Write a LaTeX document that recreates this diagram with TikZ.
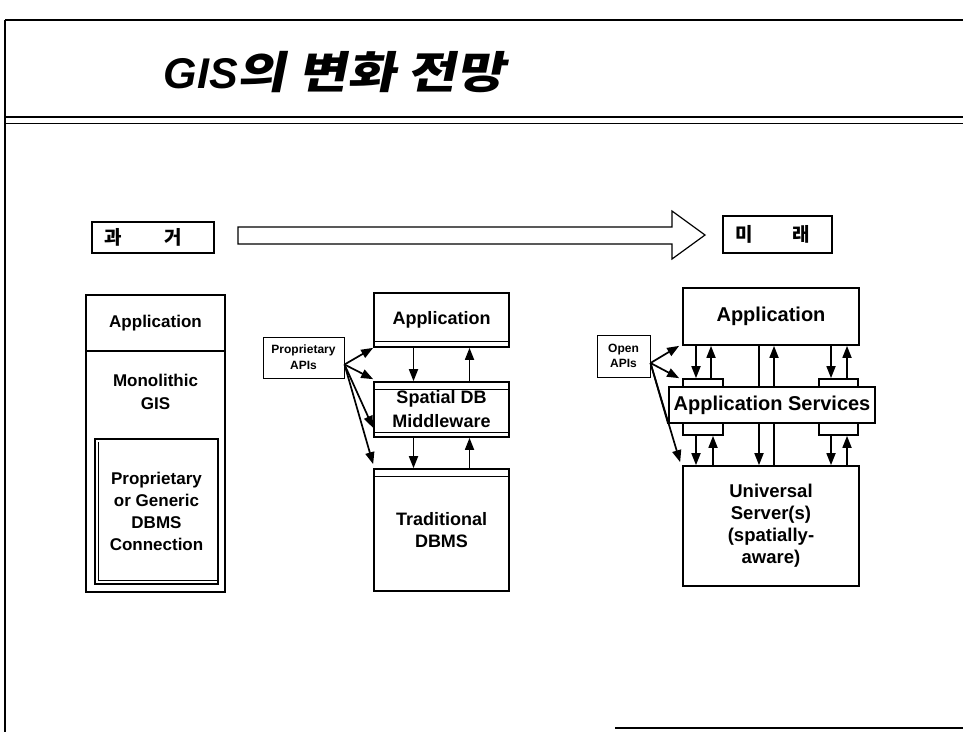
\documentclass[tikz,border=0pt]{standalone}
\usepackage{fontspec}
\setmainfont{Liberation Sans}
\newfontfamily\cjk{Noto Sans CJK KR}
\newfontfamily\cjkti[FakeSlant=0.2,FakeStretch=1.2]{Noto Sans CJK KR}
\usetikzlibrary{arrows.meta}

\begin{document}
\begin{tikzpicture}[x=1pt,y=-1pt,line width=1.7pt,
    >={Triangle[length=12pt,width=9pt]},
    box/.style={draw,fill=white,inner sep=0pt,align=center},
    thin/.style={line width=1pt}]
  \useasboundingbox (0,0) rectangle (963,732);

  % frame and title
  \draw (5,20) -- (963,20);
  \draw (5,20) -- (5,732);
  \draw (5,117) -- (963,117);
  \draw[thin] (5,123) -- (963,123);
  \draw (615,728) -- (963,728);
  \node[anchor=west,inner sep=0pt] (title) at (163,72)
    {\fontsize{43}{48}\selectfont\bfseries\itshape GIS{\cjkti\fontsize{44}{48}\selectfont 의 변화 전망}};

  % past -> future
  \node[box,minimum width=122,minimum height=31,font=\cjk\bfseries\fontsize{19}{22}\selectfont]
    (past) at (153,237.5) {과\hspace{43pt}거\hspace{20pt}};
  \node[box,minimum width=109,minimum height=37,font=\cjk\bfseries\fontsize{19}{22}\selectfont]
    (future) at (777.5,234.5) {미\hspace{40pt}래\hspace{10pt}};
  \draw[line width=1.2pt] (238,227) -- (672,227) -- (672,211) -- (705,235)
    -- (672,259) -- (672,244) -- (238,244) -- cycle;

  % monolithic GIS
  \node[box,minimum width=139,minimum height=56,font=\bfseries\fontsize{17}{20}\selectfont]
    (LApp) at (155.5,323) {Application};
  \node[box,minimum width=139,minimum height=241] (LGis) at (155.5,471.5) {};
  \node[inner sep=0pt,align=center,font=\bfseries\fontsize{17}{23}\selectfont]
    (LMono) at (155.5,391.5) {Monolithic\\GIS};
  \node[box,minimum width=123,minimum height=145,font=\bfseries\fontsize{17}{22}\selectfont]
    (LConn) at (156.5,511.5) {Proprietary\\or Generic\\DBMS\\Connection};
  \draw[thin] ([xshift=4pt,yshift=-4pt]LConn.north west) -- ([xshift=4pt,yshift=4pt]LConn.south west)
    -- ([yshift=4pt]LConn.south east);

  % middleware
  \node[box,minimum width=135,minimum height=54,font=\bfseries\fontsize{18}{22}\selectfont]
    (MApp) at (441.5,320) {Application};
  \node[box,minimum width=135,minimum height=55,font=\bfseries\fontsize{18}{24}\selectfont]
    (MMid) at (441.5,409.5) {Spatial DB\\Middleware};
  \node[box,minimum width=135,minimum height=122,font=\bfseries\fontsize{18}{22}\selectfont]
    (MDb) at (441.5,530) {Traditional\\DBMS};
  \draw[thin] ([yshift=6pt]MApp.south west) -- ([yshift=6pt]MApp.south east);
  \draw[thin] ([yshift=-8pt]MMid.north west) -- ([yshift=-8pt]MMid.north east);
  \draw[thin] ([yshift=5pt]MMid.south west) -- ([yshift=5pt]MMid.south east);
  \draw[thin] ([yshift=-8pt]MDb.north west) -- ([yshift=-8pt]MDb.north east);
  \node[box,thin,minimum width=81,minimum height=41,font=\bfseries\fontsize{12}{16}\selectfont]
    (PApi) at (303.5,357.5) {Proprietary\\APIs};

  \foreach \a/\b in {MApp/MMid,MMid/MDb}{
    \draw[->] ([xshift=-28pt]\a.south) -- ([xshift=-28pt]\b.north);
    \draw[->] ([xshift=28pt]\b.north) -- ([xshift=28pt]\a.south);
  }
  \draw[->] ([yshift=-7pt]PApi.east) -- (MApp.south west);
  \draw[->] ([yshift=-7pt]PApi.east) -- ([yshift=2pt]MMid.north west);
  \draw[->] ([yshift=-7pt]PApi.east) -- ([yshift=10pt]MMid.south west);
  \draw[->] ([yshift=-7pt]PApi.east) -- ([yshift=4pt]MDb.north west);

  % universal server
  \node[box,minimum width=176,minimum height=57,font=\bfseries\fontsize{20}{24}\selectfont]
    (RApp) at (771,316.5) {Application};
  \node[box,minimum width=176,minimum height=120,font=\bfseries\fontsize{18.5}{22}\selectfont]
    (RUni) at (771,526) {Universal\\Server(s)\\(spatially-\\aware)};
  \draw[->] ([xshift=-12pt]RApp.south) -- ([xshift=-12pt]RUni.north);
  \draw[->] ([xshift=3pt]RUni.north) -- ([xshift=3pt]RApp.south);
  \node[box,minimum width=40,minimum height=56] (RTabL) at (703,407) {};
  \node[box,minimum width=39,minimum height=56] (RTabR) at (838.5,407) {};
  \node[box,minimum width=206,minimum height=36,font=\bfseries\fontsize{20}{24}\selectfont]
    (RSvc) at (772,405) {Application Services};
  \node[box,thin,minimum width=53,minimum height=42,font=\bfseries\fontsize{12}{15}\selectfont]
    (OApi) at (623.5,356) {Open\\APIs};

  \draw[->] ([xshift=-75pt]RApp.south) -- ([xshift=-7pt]RTabL.north);
  \draw[->] ([xshift=8pt]RTabL.north) -- ([xshift=-60pt]RApp.south);
  \draw[->] ([xshift=60pt]RApp.south) -- ([xshift=-7.5pt]RTabR.north);
  \draw[->] ([xshift=8.5pt]RTabR.north) -- ([xshift=76pt]RApp.south);
  \draw[->] ([xshift=-7pt]RTabL.south) -- ([xshift=-75pt]RUni.north);
  \draw[->] ([xshift=-58pt]RUni.north) -- ([xshift=10pt]RTabL.south);
  \draw[->] ([xshift=-7.5pt]RTabR.south) -- ([xshift=60pt]RUni.north);
  \draw[->] ([xshift=76pt]RUni.north) -- ([xshift=8.5pt]RTabR.south);

  \draw[->] ([yshift=-7pt]OApi.east) -- ([xshift=-3pt]RApp.south west);
  \draw[->] ([yshift=-7pt]OApi.east) -- ([xshift=-3pt]RTabL.north west);
  \draw ([yshift=-7pt]OApi.east) -- (RSvc.south west);
  \draw[->] ([yshift=-7pt]OApi.east) -- ([xshift=-2pt,yshift=3pt]RUni.north west);
\end{tikzpicture}
\end{document}
